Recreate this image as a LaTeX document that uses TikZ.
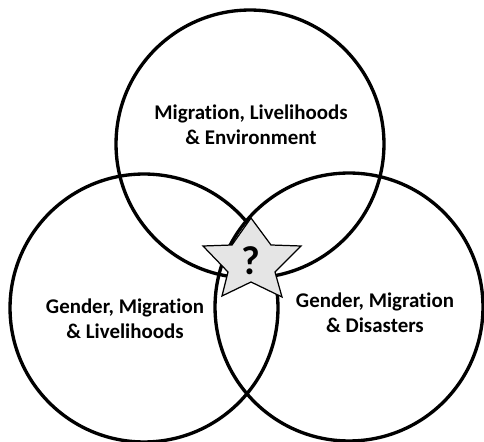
\documentclass[tikz,border=0pt]{standalone}
\usepackage{fontspec}
\setmainfont[RawFeature=-liga]{Carlito}
\usetikzlibrary{shapes}
\tikzset{
 venn/.style={circle, draw, line width=1.9pt, minimum size=5.36cm, inner sep=0pt},
 vennlabel/.style={font=\fontsize{11.9}{14.2}\selectfont\bfseries, align=center},
 starfill/.style={fill=black!10, draw, line width=0.7pt, line join=miter}
}

\begin{document}
\begin{tikzpicture}[x=0.02cm, y=-0.02cm]
 \useasboundingbox (0,0) rectangle (484,442);
%
 \node[venn] (env) at (250,144) {};
 \node[venn] (liv) at (144,308) {};
 \node[venn] (dis) at (349,307) {};
%
 \draw[starfill] (251,218) -- (271,245) -- (301,246) -- (275,272) -- (282,297) -- (251,282) -- (222,296) -- (228,272) -- (203,246) -- (232,245) -- cycle;
 \node[font=\fontsize{23}{23}\selectfont\bfseries] (q) at (251,261) {?};
%
 \node[vennlabel] (envtext) at (251,125) {Migration, Livelihoods\\\& Environment};
 \node[vennlabel] (livtext) at (125,319) {Gender, Migration\\\& Livelihoods};
 \node[vennlabel] (distext) at (375,313) {Gender, Migration\\\& Disasters};
\end{tikzpicture}
\end{document}
